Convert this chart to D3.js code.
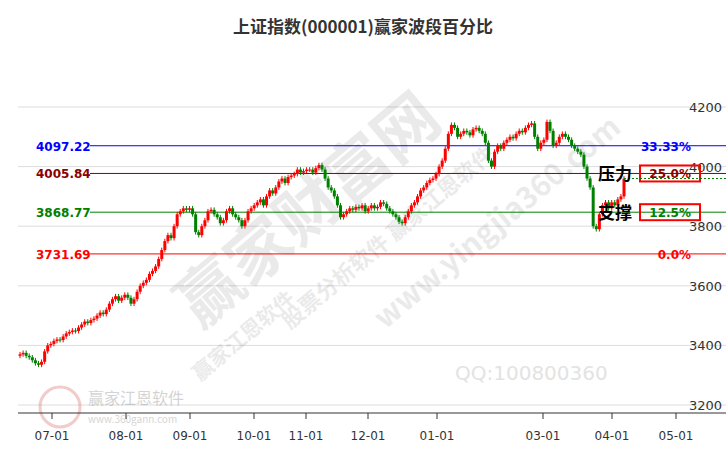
<!DOCTYPE html>
<html><head><meta charset="utf-8">
<script src="https://cdn.jsdelivr.net/npm/d3@7"></script>
<style>body{margin:0;background:#fff;font-family:"Noto Sans CJK SC","DejaVu Sans",sans-serif}</style>
</head><body><div id="chart"></div>
<script>
// closes per month
var closeJun=[3370,3375,3365,3360,3350,3340,3335,3345,3380,3400,3405];
var closeJul=[3415,3420,3418,3430,3440,3445,3450,3448,3460,3470,3480,3475,3485,3490,3500,3510,3505,3520,3540,3555,3565,3550,3560];
var closeAug=[3570,3560,3540,3555,3580,3600,3610,3620,3640,3650,3665,3690,3720,3750,3770,3760,3800,3840,3850,3860,3855];
var closeSep=[3860,3840,3780,3770,3800,3820,3850,3855,3840,3830,3810,3820,3850,3860,3840,3830,3820,3800,3820,3850,3860,3870];
var closeOct=[3880,3890,3870,3900,3920,3910,3930,3950,3960,3945,3965,3970,3975,3990,3980,3985,3990];
var closeNov=[3990,3980,3995,4005,3990,3960,3930,3920,3900,3870,3830,3840,3850,3860,3855,3865,3860,3870,3850,3860];
var closeDec=[3870,3860,3865,3880,3875,3860,3850,3840,3830,3815,3810,3830,3850,3870,3880,3900,3920,3930,3945,3955,3960,3975,4000];
var closeJan=[4020,4060,4110,4140,4130,4100,4110,4120,4115,4105,4125,4130,4120,4110,4080,4020,4000,4050,4070,4060];
var closeFeb=[4080,4090,4100,4095,4110,4120,4115,4130,4140,4145,4100,4060,4080,4090];
var closeMar=[4150,4120,4070,4080,4100,4110,4100,4090,4070,4060,4050,4040,4000,3960,3930,3800,3790,3840,3870,3880,3860,3880];
var closeApr=[3870,3890,3900,3960];
var monthLabels=["07-01","08-01","09-01","10-01","11-01","12-01","01-01","03-01","04-01","05-01"];
var monthTickPx=[52,126,190,254,306,368,437,543,612,676];
var yTicks=[3200,3400,3600,3800,4000,4200];
var levelLabels=["4097.22","4005.84","3868.77","3731.69"];
var levelPlot=[4070,3977,3847,3707];
var levelPct=["33.33%","25.0%","12.5%","0.0%"];
var levelColor=["#0000ff","#8b0000","#008000","#ff0000"];

var closes=[].concat(closeJun,closeJul,closeAug,closeSep,closeOct,closeNov,closeDec,closeJan,closeFeb,closeMar,closeApr);
var W=726,H=450;
var svg=d3.select("#chart").append("svg").attr("width",W).attr("height",H);
var y=d3.scaleLinear().domain([3200,4200]).range([405,107]);
var x=d3.scaleLinear().domain([0,closes.length-1]).range([20,624]);

// grid
svg.selectAll(".g").data(yTicks).enter().append("line")
  .attr("x1",18).attr("x2",W).attr("y1",d=>y(d)).attr("y2",d=>y(d))
  .attr("stroke","#dddddd");
svg.selectAll(".yt").data(yTicks).enter().append("text")
  .attr("x",722).attr("y",d=>y(d)+5).attr("text-anchor","end")
  .attr("font-size",13).attr("fill","#333").attr("font-family","DejaVu Sans").text(d=>d);

// watermarks
var wm=svg.append("g").attr("fill","#000").attr("opacity",0.08).attr("font-weight","bold");
wm.append("text").attr("transform","translate(200,330) rotate(-40)").attr("font-size",64).text("赢家财富网");
wm.append("text").attr("transform","translate(290,330) rotate(-40)").attr("font-size",22).text("股票分析软件 赢家江恩软件");
wm.append("text").attr("transform","translate(385,330) rotate(-40)").attr("font-size",30).text("www.yingjia360.com");
wm.append("text").attr("transform","translate(200,382) rotate(-40)").attr("font-size",21).text("赢家江恩软件");
svg.append("text").attr("x",455).attr("y",380).attr("font-size",20).attr("fill","#e3e3e3").attr("font-family","DejaVu Sans").text("QQ:100800360");
var lg=svg.append("g").attr("opacity",0.25);
lg.append("circle").attr("cx",60).attr("cy",407).attr("r",20).attr("fill","none").attr("stroke","#c33").attr("stroke-width",3);
lg.append("text").attr("x",88).attr("y",404).attr("font-size",16).attr("fill","#555").text("赢家江恩软件");
lg.append("text").attr("x",88).attr("y",423).attr("font-size",10).attr("fill","#555").text("www.360gann.com");

// level lines
levelPlot.forEach(function(v,i){
  svg.append("line").attr("x1",90).attr("x2",W).attr("y1",y(v)).attr("y2",y(v)).attr("stroke",levelColor[i]).attr("stroke-width",1);
  svg.append("text").attr("x",36).attr("y",y(v)+5).attr("font-size",12).attr("font-weight","bold")
    .attr("font-family","DejaVu Sans").attr("fill",levelColor[i]).text(levelLabels[i]);
  svg.append("text").attr("x",691).attr("y",y(v)+5).attr("text-anchor","end").attr("font-size",12).attr("font-weight","bold")
    .attr("font-family","DejaVu Sans").attr("fill",levelColor[i]).text(levelPct[i]);
});
[1,2].forEach(function(i){
  svg.append("rect").attr("x",640).attr("y",y(levelPlot[i])-8).attr("width",60).attr("height",16)
    .attr("fill","none").attr("stroke","#ff0000").attr("stroke-width",2);
});

// candles
var cw=3;
var candles=svg.append("g");
closes.forEach(function(c,i){
  var o=i?closes[i-1]:c-5;
  var up=c>=o, col=up?"#ff0000":"#008000";
  var hi=Math.max(o,c)+8, lo=Math.min(o,c)-8;
  candles.append("line").attr("x1",x(i)).attr("x2",x(i)).attr("y1",y(hi)).attr("y2",y(lo)).attr("stroke",col);
  candles.append("rect").attr("x",x(i)-cw/2).attr("width",cw)
    .attr("y",y(Math.max(o,c))).attr("height",Math.max(1,Math.abs(y(o)-y(c)))).attr("fill",col);
});
var last=closes[closes.length-1];
svg.append("line").attr("x1",x(closes.length-1)).attr("x2",W).attr("y1",y(last)).attr("y2",y(last))
  .attr("stroke","#008000").attr("stroke-dasharray","2,2");

svg.append("text").attr("x",598).attr("y",y(levelPlot[1])+7).attr("font-size",17).attr("font-weight","bold").text("压力");
svg.append("text").attr("x",598).attr("y",y(levelPlot[2])+7).attr("font-size",17).attr("font-weight","bold").text("支撑");

// x axis
svg.append("line").attr("x1",18).attr("x2",W).attr("y1",413).attr("y2",413).attr("stroke","#333");
monthTickPx.forEach(function(px,i){
  svg.append("line").attr("x1",px).attr("x2",px).attr("y1",413).attr("y2",419).attr("stroke","#333");
  svg.append("text").attr("x",px).attr("y",440).attr("text-anchor","middle").attr("font-size",12)
    .attr("font-family","DejaVu Sans").attr("fill","#333").text(monthLabels[i]);
});

svg.append("text").attr("x",363).attr("y",33).attr("text-anchor","middle").attr("font-size",17)
  .attr("font-weight","bold").attr("fill","#333").text("上证指数(000001)赢家波段百分比");
</script></body></html>
